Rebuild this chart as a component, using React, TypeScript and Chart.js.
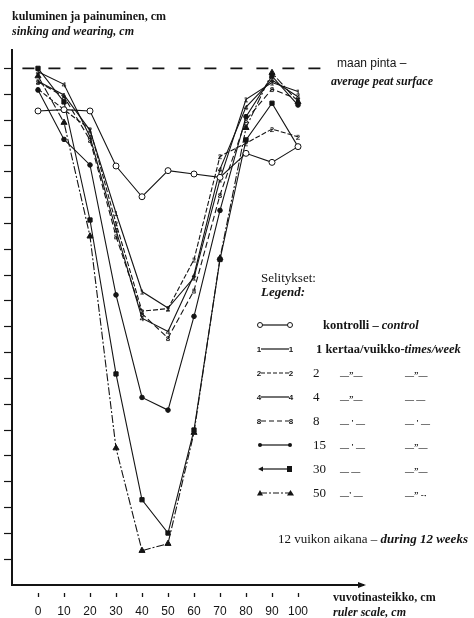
import React, { useEffect, useRef } from "react";
import { Chart, registerables } from "chart.js";
Chart.register(...registerables);

// ---- data (ruler position in cm, sinking/wearing in cm, 0 = average peat surface) ----
const xValues = [0, 10, 20, 30, 40, 50, 60, 70, 80, 90, 100];
const control = [-1.65, -1.6, -1.65, -3.78, -4.97, -3.96, -4.09, -4.22, -3.29, -3.64, -3.03];
const times1 = [-0.5, -1.03, -2.4, -5.6, -8.64, -9.28, -8.1, -4.3, -1.2, -0.55, -0.9];
const times2 = [-0.8, -1.6, -2.36, -6.0, -9.4, -9.3, -7.4, -3.4, -2.9, -2.35, -2.65];
const times4 = [-0.13, -0.62, -2.65, -6.26, -9.67, -10.19, -8.0, -3.9, -1.5, -0.45, -1.1];
const times8 = [-0.52, -1.1, -2.77, -6.5, -9.5, -10.44, -8.6, -4.9, -2.0, -0.8, -1.2];
const times15 = [-0.84, -2.75, -3.74, -8.77, -12.74, -13.23, -9.6, -5.5, -1.87, -0.3, -1.42];
const times30 = [0.0, -1.3, -5.87, -11.83, -16.7, -17.99, -14.0, -7.4, -2.77, -1.35, -3.03];
const times50 = [-0.3, -2.1, -6.5, -14.7, -18.67, -18.4, -14.1, -7.35, -2.3, -0.17, -1.3];
const surfaceX = [-6, 109];
const surfaceY = [0, 0];
const xTickValues = [0, 10, 20, 30, 40, 50, 60, 70, 80, 90, 100];
const yTickValues = [0, -1, -2, -3, -4, -5, -6, -7, -8, -9, -10, -11, -12, -13, -14, -15, -16, -17, -18, -19];

const SERIF = '"Liberation Serif", "DejaVu Serif", serif';
const SANS = '"Liberation Sans", Arial, sans-serif';
const INK = "#141414";

function digitMarker(d: string) {
  const c = document.createElement("canvas");
  c.width = 8;
  c.height = 10;
  const ctx = c.getContext("2d")!;
  ctx.fillStyle = INK;
  ctx.font = `bold 8px ${SANS}`;
  ctx.textAlign = "center";
  ctx.textBaseline = "middle";
  ctx.fillText(d, 4, 5.5);
  return c;
}

const arrowPlugin = {
  id: "axisArrow",
  afterDraw(chart: any) {
    const { ctx, chartArea } = chart;
    const r = chartArea.right;
    const b = chartArea.bottom;
    ctx.save();
    ctx.fillStyle = INK;
    ctx.beginPath();
    ctx.moveTo(r + 3, b);
    ctx.lineTo(r - 5, b - 3);
    ctx.lineTo(r - 5, b + 3);
    ctx.closePath();
    ctx.fill();
    ctx.restore();
  },
};

function ChartCanvas() {
  const ref = useRef<HTMLCanvasElement>(null);
  useEffect(() => {
    const canvas = ref.current!;
    const pts = (ys: number[]) => xValues.map((x, i) => ({ x, y: ys[i] }));
    const base = {
      borderColor: INK,
      backgroundColor: INK,
      borderWidth: 1.1,
      pointBorderColor: INK,
      pointBorderWidth: 1,
      fill: false,
      tension: 0,
    };
    const chart = new Chart(canvas, {
      type: "line",
      data: {
        datasets: [
          {
            ...base,
            data: surfaceX.map((x, i) => ({ x, y: surfaceY[i] })),
            borderDash: [12, 14],
            borderWidth: 1.6,
            pointRadius: 0,
          },
          { ...base, data: pts(control), pointStyle: "circle", pointRadius: 3, pointBackgroundColor: "#fff" },
          { ...base, data: pts(times1), pointStyle: digitMarker("1"), pointRadius: 4 },
          { ...base, data: pts(times2), pointStyle: digitMarker("2"), pointRadius: 4, borderDash: [5, 2] },
          { ...base, data: pts(times4), pointStyle: digitMarker("4"), pointRadius: 4 },
          { ...base, data: pts(times8), pointStyle: digitMarker("8"), pointRadius: 4, borderDash: [6, 3] },
          { ...base, data: pts(times15), pointStyle: "circle", pointRadius: 2.3, pointBackgroundColor: INK },
          { ...base, data: pts(times30), pointStyle: "rect", pointRadius: 3, pointBackgroundColor: INK },
          { ...base, data: pts(times50), pointStyle: "triangle", pointRadius: 3.5, pointBackgroundColor: INK, borderDash: [8, 2, 2, 2] },
        ],
      } as any,
      options: {
        responsive: false,
        animation: false,
        devicePixelRatio: 1,
        layout: { padding: { top: 50, left: 2, right: 111, bottom: 0 } },
        plugins: { legend: { display: false }, tooltip: { enabled: false } },
        scales: {
          x: {
            type: "linear",
            min: -10,
            max: 125,
            afterFit: (s: any) => {
              s.height = 33;
            },
            afterBuildTicks: (s: any) => {
              s.ticks = xTickValues.map((v) => ({ value: v }));
            },
            grid: {
              drawOnChartArea: false,
              drawTicks: true,
              tickLength: 12,
              tickColor: INK,
              tickWidth: 1.3,
              tickBorderDash: [5, 7],
              tickBorderDashOffset: 5,
            },
            border: { display: true, color: INK, width: 2 },
            ticks: {
              color: INK,
              font: { family: SANS, size: 12 },
              padding: 7,
              maxRotation: 0,
              autoSkip: false,
            },
          },
          y: {
            type: "linear",
            min: -20,
            max: 0.71,
            afterFit: (s: any) => {
              s.width = 10;
            },
            afterBuildTicks: (s: any) => {
              s.ticks = yTickValues.map((v) => ({ value: v }));
            },
            grid: {
              drawOnChartArea: false,
              drawTicks: true,
              tickLength: 11,
              tickColor: INK,
              tickWidth: 1.2,
              tickBorderDash: [8, 3],
              tickBorderDashOffset: 8,
            },
            border: { display: true, color: INK, width: 2 },
            ticks: { display: false },
          },
        },
      } as any,
      plugins: [arrowPlugin],
    });
    return () => chart.destroy();
  }, []);
  return (
    <canvas
      ref={ref}
      width={474}
      height={618}
      style={{ position: "absolute", left: 0, top: 0, width: 474, height: 618 }}
    />
  );
}

const txt = (left: number, baseline: number, size: number, extra: any = {}) => ({
  position: "absolute" as const,
  left,
  top: baseline - 0.8375 * size,
  fontSize: size,
  lineHeight: 1,
  fontFamily: SERIF,
  whiteSpace: "nowrap" as const,
  color: INK,
  ...extra,
});

function Sample({ kind }: { kind: string }) {
  const line = (dash?: string) => (
    <line x1={5} y1={6} x2={33} y2={6} stroke={INK} strokeWidth={1.2} strokeDasharray={dash} />
  );
  const digit = (d: string) => (
    <>
      <text x={3} y={9} fontSize={8} fontWeight="bold" fontFamily={SANS} textAnchor="middle" fill={INK}>{d}</text>
      <text x={35} y={9} fontSize={8} fontWeight="bold" fontFamily={SANS} textAnchor="middle" fill={INK}>{d}</text>
    </>
  );
  let content: any = null;
  if (kind === "control") {
    content = (
      <>
        {line()}
        <circle cx={4} cy={6} r={2.5} fill="#fff" stroke={INK} strokeWidth={1} />
        <circle cx={34} cy={6} r={2.5} fill="#fff" stroke={INK} strokeWidth={1} />
      </>
    );
  } else if (kind === "1" || kind === "4") {
    content = (
      <>
        {line()}
        {digit(kind)}
      </>
    );
  } else if (kind === "2") {
    content = (
      <>
        {line("4 2")}
        {digit(kind)}
      </>
    );
  } else if (kind === "8") {
    content = (
      <>
        {line("5 3")}
        {digit(kind)}
      </>
    );
  } else if (kind === "15") {
    content = (
      <>
        {line()}
        <circle cx={4} cy={6} r={2} fill={INK} />
        <circle cx={34} cy={6} r={2} fill={INK} />
      </>
    );
  } else if (kind === "30") {
    content = (
      <>
        {line()}
        <path d="M2 6 L7 3.5 L7 8.5 Z" fill={INK} />
        <rect x={31} y={3} width={5} height={6} fill={INK} />
      </>
    );
  } else {
    content = (
      <>
        {line("6 2 2 2")}
        <path d="M1 8.5 L4 3 L7 8.5 Z" fill={INK} />
        <path d="M31 8.5 L34.5 3 L38 8.5 Z" fill={INK} />
      </>
    );
  }
  return <svg width={40} height={12} style={{ display: "block" }}>{content}</svg>;
}

const rowBaselines = [329, 353, 377, 401, 425, 449, 473, 497];
const rowKinds = ["control", "1", "2", "4", "8", "15", "30", "50"];
const rowNumbers = ["", "1", "2", "4", "8", "15", "30", "50"];
const dittoA = ["", "", "—\u201D—", "—\u201D—", "— ' —", "— ' —", "— —", "—' —"];
const dittoB = ["", "", "—\u201D—", "— —", "— ' —", "—\u201D—", "—\u201D—", "—\u201D -·"];

export default function App() {
  return (
    <div
      style={{
        position: "fixed",
        left: 0,
        top: 0,
        width: 474,
        height: 618,
        overflow: "hidden",
        background: "#fff",
      }}
    >
      <ChartCanvas />
      <div style={txt(12, 20, 12, { fontWeight: "bold" })}>kuluminen ja painuminen, cm</div>
      <div style={txt(12, 35, 12, { fontWeight: "bold", fontStyle: "italic" })}>sinking and wearing, cm</div>
      <div style={txt(337, 67, 12, { fontFamily: SANS })}>maan pinta –</div>
      <div style={txt(331, 85, 12, { fontWeight: "bold", fontStyle: "italic" })}>average peat surface</div>

      <div style={txt(261, 281.5, 13)}>Selitykset:</div>
      <div style={txt(261, 296, 13, { fontWeight: "bold", fontStyle: "italic" })}>Legend:</div>

      {rowKinds.map((k, i) => (
        <div key={k} style={{ position: "absolute", left: 256, top: rowBaselines[i] - 10 }}>
          <Sample kind={k} />
        </div>
      ))}
      <div style={txt(323, rowBaselines[0], 12.5, { fontWeight: "bold" })}>
        kontrolli – <span style={{ fontStyle: "italic" }}>control</span>
      </div>
      <div style={txt(316, rowBaselines[1], 12.5, { fontWeight: "bold" })}>
        1 kertaa/vuikko-<span style={{ fontStyle: "italic" }}>times/week</span>
      </div>
      {rowNumbers.slice(2).map((n, j) => (
        <React.Fragment key={n}>
          <div style={txt(313, rowBaselines[j + 2], 13)}>{n}</div>
          <div style={txt(340, rowBaselines[j + 2] + 2, 9, { fontWeight: "bold" })}>{dittoA[j + 2]}</div>
          <div style={txt(405, rowBaselines[j + 2] + 2, 9, { fontWeight: "bold" })}>{dittoB[j + 2]}</div>
        </React.Fragment>
      ))}
      <div style={txt(278, 543, 13)}>
        12 vuikon aikana – <span style={{ fontWeight: "bold", fontStyle: "italic" }}>during 12 weeks</span>
      </div>

      <div style={txt(333, 601.5, 12, { fontWeight: "bold" })}>vuvotinasteikko, cm</div>
      <div style={txt(333, 616, 12, { fontWeight: "bold", fontStyle: "italic" })}>ruler scale, cm</div>
    </div>
  );
}
